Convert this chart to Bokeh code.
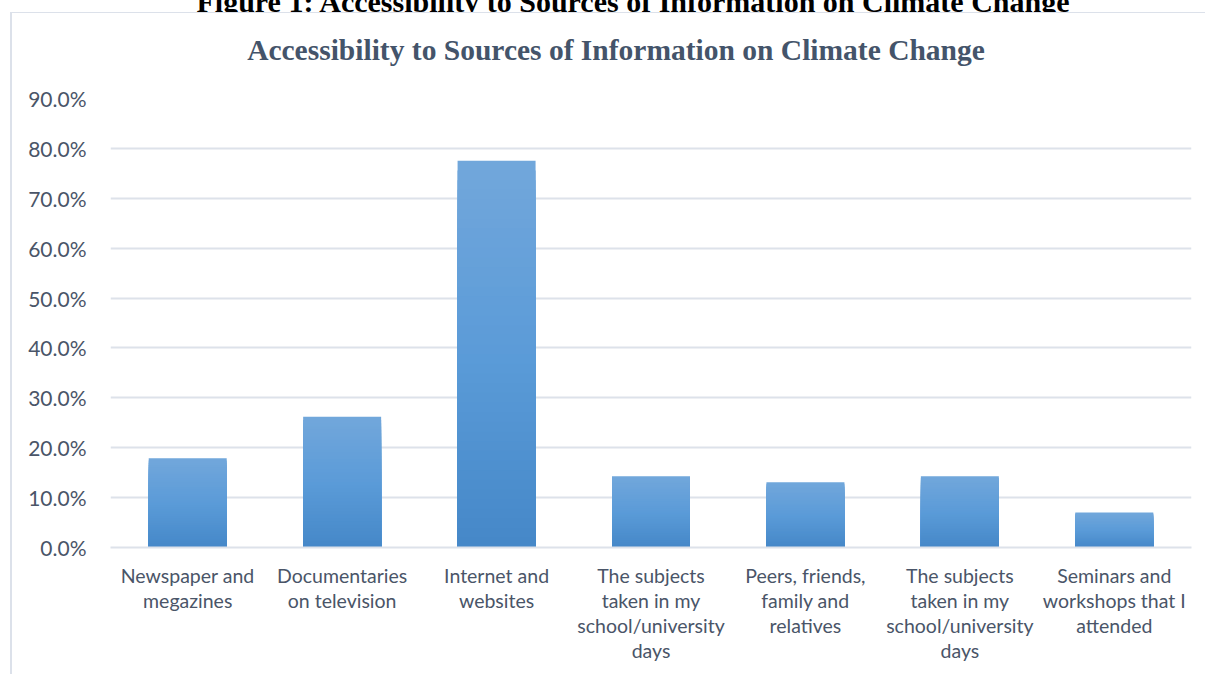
from bokeh.plotting import figure
from bokeh.models import (Range1d, FixedTicker, NumeralTickFormatter, Div, ColumnDataSource)
from bokeh.layouts import column
from bokeh.embed import file_html
from bokeh.resources import INLINE

# ---- data ----
categories = [
    "Newspaper and\nmegazines",
    "Documentaries\non television",
    "Internet and\nwebsites",
    "The subjects\ntaken in my\nschool/university\ndays",
    "Peers, friends,\nfamily and\nrelatives",
    "The subjects\ntaken in my\nschool/university\ndays",
    "Seminars and\nworkshops that I\nattended",
]
values = [0.179, 0.262, 0.775, 0.143, 0.131, 0.143, 0.070]
y_ticks = [0.0, 0.1, 0.2, 0.3, 0.4, 0.5, 0.6, 0.7, 0.8, 0.9]
chart_title = "Accessibility to Sources of Information on Climate Change"
figure_caption = "Figure 1: Accessibility to Sources of Information on Climate Change"

TEXT = "#4A5568"
GRID = "#DDE2EA"
BORDER = "#DCE1EA"

positions = list(range(1, len(categories) + 1))

p = figure(width=1195, height=600, output_backend="svg", toolbar_location=None,
           x_range=Range1d(0.5, len(categories) + 0.5), y_range=Range1d(0, 0.9),
           min_border_left=98, min_border_right=16, min_border_top=24, min_border_bottom=127,
           background_fill_color="white", border_fill_color="white",
           margin=(0, 0, 0, 10),
           styles={"border-left": "2px solid " + BORDER})
p.outline_line_color = None

# gradient bars: nested bars from full height down, each shorter one drawn on top,
# coloured light at the top of the bar to dark at its base
def lerp(c1, c2, t):
    a = [int(c1[i:i + 2], 16) for i in (1, 3, 5)]
    b = [int(c2[i:i + 2], 16) for i in (1, 3, 5)]
    return "#%02x%02x%02x" % tuple(round(a[k] + (b[k] - a[k]) * t) for k in range(3))

top_c, mid_c, bot_c = "#72A7DB", "#5B9BD8", "#4588C8"
n = 40
xs, tops, cols = [], [], []
for i in range(n):
    f1 = 1 - i / n            # top fraction of this layer
    t = (i + 0.5) / n         # 0 at bar top, 1 at base
    c = lerp(top_c, mid_c, t / 0.5) if t < 0.5 else lerp(mid_c, bot_c, (t - 0.5) / 0.5)
    for xpos, v in zip(positions, values):
        xs.append(xpos)
        tops.append(v * f1)
        cols.append(c)
src = ColumnDataSource(dict(x=xs, top=tops, color=cols))
p.vbar(x="x", bottom=0, top="top", width=0.505, source=src,
       fill_color="color", line_color=None)

# axes
p.yaxis.ticker = FixedTicker(ticks=y_ticks)
p.yaxis.formatter = NumeralTickFormatter(format="0.0%")
p.yaxis.axis_line_color = None
p.yaxis.major_tick_line_color = None
p.yaxis.minor_tick_line_color = None
p.yaxis.major_label_standoff = 18
p.yaxis.major_label_text_font = "Lato"
p.yaxis.major_label_text_font_size = "21px"
p.yaxis.major_label_text_color = TEXT

p.xaxis.ticker = FixedTicker(ticks=positions)
p.xaxis.major_label_overrides = {xp: lab for xp, lab in zip(positions, categories)}
p.xaxis.axis_line_color = GRID
p.xaxis.axis_line_width = 2
p.xaxis.major_tick_line_color = None
p.xaxis.minor_tick_line_color = None
p.xaxis.major_label_standoff = 10
p.xaxis.major_label_text_font = "Lato"
p.xaxis.major_label_text_font_size = "19.5px"
p.xaxis.major_label_text_color = TEXT
p.xaxis.major_label_text_line_height = 1.1

p.xgrid.grid_line_color = None
p.ygrid.grid_line_color = GRID
p.ygrid.grid_line_width = 2

caption = Div(
    text=("<div style=\"font-family:'Liberation Serif'; font-weight:bold; font-size:30px; "
          "color:#000; white-space:nowrap; line-height:30px; margin-top:-23px; "
          "width:1206px; text-align:center; padding-left:60px; box-sizing:border-box\">"
          + figure_caption + "</div>"),
    width=1206, height=12, margin=(0, 0, 0, 0),
    styles={"overflow": "hidden"})

title_div = Div(
    text=("<div style=\"font-family:'Liberation Serif'; font-weight:bold; font-size:29.5px; "
          "color:#44546A; white-space:nowrap; line-height:34px; margin-top:20px; "
          "width:1193px; text-align:center; padding-left:15px; box-sizing:border-box\">"
          + chart_title + "</div>"),
    width=1195, height=62, margin=(0, 0, 0, 10),
    styles={"border-left": "2px solid " + BORDER, "border-top": "1px solid " + BORDER,
            "background": "white", "overflow": "hidden"})

layout = column(caption, title_div, p, spacing=0)
open("out.html", "w").write(file_html(layout, INLINE))
